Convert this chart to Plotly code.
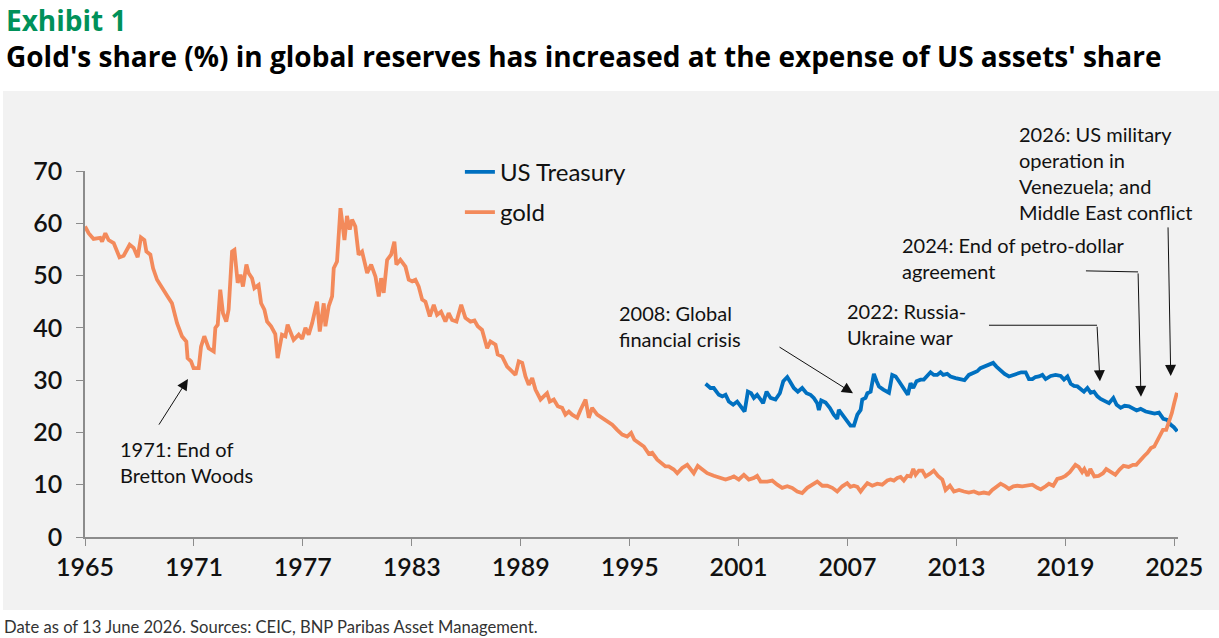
import plotly.graph_objects as go

# values (decimal year, % share)
gold_years = [
    1965.00, 1965.20, 1965.47, 1965.84, 1965.94, 1966.12, 1966.30, 1966.58, 1966.90, 1967.13,
    1967.46, 1967.68, 1967.90, 1968.08, 1968.27, 1968.38, 1968.60, 1968.75, 1968.97, 1969.24,
    1969.55, 1969.79, 1970.07, 1970.34, 1970.58, 1970.65, 1970.84, 1970.98, 1971.26, 1971.39,
    1971.57, 1971.81, 1972.09, 1972.18, 1972.31, 1972.45, 1972.60, 1972.78, 1972.91, 1973.10,
    1973.23, 1973.41, 1973.56, 1973.70, 1973.89, 1974.01, 1974.20, 1974.33, 1974.56, 1974.70,
    1974.88, 1975.03, 1975.25, 1975.48, 1975.61, 1975.85, 1976.04, 1976.16, 1976.49, 1976.77,
    1976.96, 1977.14, 1977.32, 1977.51, 1977.78, 1977.93, 1978.15, 1978.24, 1978.42, 1978.61,
    1978.70, 1978.88, 1979.07, 1979.29, 1979.43, 1979.58, 1979.71, 1979.89, 1980.07, 1980.26,
    1980.35, 1980.54, 1980.76, 1981.00, 1981.18, 1981.31, 1981.45, 1981.64, 1981.86, 1982.04,
    1982.15, 1982.37, 1982.65, 1982.83, 1983.02, 1983.20, 1983.38, 1983.57, 1983.75, 1983.99,
    1984.21, 1984.39, 1984.61, 1984.85, 1985.03, 1985.22, 1985.46, 1985.72, 1985.95, 1986.23,
    1986.45, 1986.63, 1986.87, 1987.15, 1987.33, 1987.61, 1987.73, 1987.98, 1988.25, 1988.53,
    1988.71, 1988.89, 1989.08, 1989.26, 1989.44, 1989.63, 1989.81, 1990.09, 1990.27, 1990.45,
    1990.60, 1990.82, 1991.04, 1991.28, 1991.46, 1991.65, 1991.83, 1992.11, 1992.29, 1992.57,
    1992.75, 1992.93, 1993.21, 1993.48, 1993.76, 1994.04, 1994.31, 1994.59, 1994.86, 1995.08,
    1995.26, 1995.50, 1995.78, 1996.05, 1996.24, 1996.52, 1996.79, 1996.97, 1997.15, 1997.43,
    1997.62, 1997.89, 1998.17, 1998.35, 1998.53, 1998.75, 1998.99, 1999.27, 1999.63, 2000.00,
    2000.28, 2000.55, 2000.74, 2001.01, 2001.29, 2001.56, 2001.84, 2002.02, 2002.21, 2002.58,
    2002.85, 2003.13, 2003.40, 2003.68, 2003.95, 2004.23, 2004.50, 2004.78, 2005.06, 2005.33,
    2005.61, 2005.88, 2006.16, 2006.43, 2006.71, 2006.98, 2007.16, 2007.35, 2007.54, 2007.72,
    2007.87, 2008.09, 2008.36, 2008.64, 2008.91, 2009.19, 2009.37, 2009.55, 2009.74, 2009.92,
    2010.10, 2010.29, 2010.47, 2010.62, 2010.75, 2010.93, 2011.12, 2011.30, 2011.54, 2011.75,
    2011.98, 2012.22, 2012.40, 2012.64, 2012.86, 2013.14, 2013.41, 2013.68, 2013.96, 2014.23,
    2014.51, 2014.78, 2014.97, 2015.20, 2015.43, 2015.65, 2015.89, 2016.13, 2016.35, 2016.62,
    2016.90, 2017.18, 2017.45, 2017.64, 2017.91, 2018.09, 2018.33, 2018.55, 2018.77, 2019.00,
    2019.24, 2019.42, 2019.55, 2019.73, 2019.92, 2020.04, 2020.22, 2020.37, 2020.59, 2020.83,
    2021.07, 2021.25, 2021.47, 2021.75, 2021.98, 2022.20, 2022.48, 2022.72, 2022.90, 2023.12,
    2023.34, 2023.52, 2023.71, 2023.89, 2024.07, 2024.22, 2024.37, 2024.55, 2024.68, 2024.86,
    2024.99, 2025.14,
]
gold_share = [
    59.4, 58.1, 57.0, 57.2, 56.5, 58.1, 56.8, 56.2, 53.5, 53.8,
    55.9, 55.3, 53.5, 57.3, 56.8, 54.6, 54.0, 51.4, 49.2, 47.6,
    46.0, 44.7, 40.9, 38.4, 37.4, 34.2, 33.6, 32.3, 32.3, 36.4,
    38.4, 36.1, 35.5, 40.0, 40.6, 47.3, 42.8, 41.2, 43.5, 54.6,
    54.9, 48.6, 50.2, 47.9, 52.1, 50.5, 49.5, 47.6, 48.2, 44.7,
    43.5, 41.2, 40.3, 38.8, 34.2, 38.7, 38.4, 40.6, 37.7, 38.7,
    37.9, 40.0, 38.7, 40.9, 45.0, 39.3, 44.7, 40.3, 44.1, 46.0,
    51.4, 52.7, 62.9, 56.8, 61.4, 58.8, 60.7, 59.4, 54.0, 54.6,
    53.0, 50.5, 52.1, 49.8, 46.0, 49.5, 46.7, 53.0, 54.0, 56.5,
    52.1, 53.0, 51.7, 49.2, 48.9, 49.2, 47.9, 45.4, 45.0, 42.2,
    44.4, 42.5, 43.1, 41.2, 42.8, 41.5, 41.2, 44.4, 41.9, 41.2,
    41.4, 40.3, 39.6, 36.1, 37.4, 36.8, 34.9, 34.5, 32.6, 31.7,
    31.0, 33.6, 33.3, 30.7, 29.1, 30.4, 28.2, 26.3, 26.9, 27.5,
    25.9, 26.3, 25.0, 24.7, 23.4, 24.0, 23.4, 22.8, 24.3, 26.3,
    22.8, 24.7, 23.4, 22.8, 22.1, 21.5, 20.5, 19.6, 19.2, 19.9,
    18.6, 18.0, 17.3, 15.9, 16.1, 14.8, 14.1, 13.5, 13.5, 12.9,
    12.2, 13.2, 13.8, 12.9, 12.2, 13.6, 12.9, 12.2, 11.7, 11.3,
    11.0, 11.3, 11.6, 11.0, 11.9, 11.0, 11.3, 11.7, 10.6, 10.6,
    10.8, 10.0, 9.4, 9.7, 9.4, 8.7, 8.4, 9.4, 10.0, 10.6,
    9.8, 9.8, 9.4, 8.7, 9.7, 10.3, 9.6, 9.8, 9.6, 8.7,
    9.4, 10.3, 9.8, 10.2, 10.0, 10.8, 11.0, 10.8, 11.3, 11.5,
    10.8, 11.7, 11.6, 13.0, 11.9, 12.7, 12.7, 11.6, 12.1, 12.7,
    11.7, 11.0, 9.0, 9.8, 8.7, 9.0, 8.7, 8.5, 8.7, 8.3,
    8.5, 8.3, 9.0, 9.7, 10.2, 9.8, 9.2, 9.7, 9.8, 9.7,
    9.8, 10.0, 9.4, 9.1, 9.7, 10.2, 9.8, 11.1, 11.3, 11.7,
    12.4, 13.2, 13.8, 13.4, 12.4, 13.0, 11.7, 13.0, 11.6, 11.7,
    12.2, 13.0, 12.5, 11.9, 12.9, 13.6, 13.4, 13.8, 13.8, 14.8,
    15.5, 16.1, 17.0, 17.3, 18.5, 19.6, 20.5, 20.5, 21.8, 23.7,
    25.6, 27.6,
]

ust_years = [
    1999.18, 1999.45, 1999.63, 1999.91, 2000.10, 2000.28, 2000.46, 2000.70, 2000.92, 2001.10,
    2001.33, 2001.51, 2001.69, 2001.84, 2002.02, 2002.21, 2002.35, 2002.54, 2002.76, 2003.03,
    2003.27, 2003.46, 2003.68, 2003.82, 2004.04, 2004.26, 2004.50, 2004.74, 2004.96, 2005.14,
    2005.33, 2005.42, 2005.55, 2005.79, 2006.02, 2006.24, 2006.43, 2006.52, 2006.76, 2006.98,
    2007.16, 2007.35, 2007.54, 2007.72, 2007.81, 2007.99, 2008.09, 2008.27, 2008.45, 2008.60,
    2008.73, 2008.97, 2009.28, 2009.46, 2009.65, 2009.83, 2010.01, 2010.20, 2010.32, 2010.47,
    2010.62, 2010.80, 2011.02, 2011.20, 2011.42, 2011.57, 2011.75, 2011.94, 2012.12, 2012.27,
    2012.49, 2012.67, 2012.95, 2013.22, 2013.44, 2013.68, 2013.92, 2014.14, 2014.32, 2014.54,
    2014.78, 2015.02, 2015.20, 2015.43, 2015.65, 2015.89, 2016.13, 2016.35, 2016.57, 2016.81,
    2016.99, 2017.18, 2017.35, 2017.54, 2017.73, 2017.91, 2018.19, 2018.46, 2018.74, 2018.92,
    2019.11, 2019.29, 2019.47, 2019.66, 2019.84, 2020.02, 2020.21, 2020.39, 2020.57, 2020.76,
    2020.94, 2021.12, 2021.40, 2021.64, 2021.82, 2022.04, 2022.26, 2022.50, 2022.74, 2022.92,
    2023.14, 2023.42, 2023.69, 2023.91, 2024.15, 2024.39, 2024.61, 2024.79, 2024.97, 2025.16,
]
ust_share = [
    29.3, 28.5, 28.5, 27.2, 26.9, 27.2, 25.9, 25.3, 25.9, 25.0,
    24.0, 27.8, 27.5, 26.6, 27.2, 26.3, 25.6, 27.8, 26.6, 26.3,
    27.5, 29.8, 30.6, 29.8, 28.5, 27.8, 28.5, 27.5, 27.2, 26.6,
    25.6, 24.3, 26.1, 25.7, 24.7, 23.4, 22.6, 24.3, 23.1, 22.1,
    21.3, 21.3, 23.4, 24.3, 26.3, 26.6, 27.5, 27.8, 31.2, 29.8,
    28.8, 28.2, 27.6, 31.0, 30.7, 29.8, 28.8, 27.8, 27.2, 29.4,
    28.5, 29.8, 30.1, 30.1, 31.0, 31.5, 31.0, 31.0, 31.5, 31.0,
    31.2, 30.7, 30.4, 30.1, 30.0, 31.0, 31.4, 31.7, 32.3, 32.6,
    32.9, 33.3, 32.6, 31.8, 31.2, 30.7, 31.0, 31.2, 31.5, 31.5,
    30.2, 30.2, 30.6, 30.7, 31.0, 30.2, 30.8, 31.0, 30.8, 30.1,
    30.7, 29.3, 28.9, 28.8, 28.2, 27.8, 28.5, 27.6, 27.8, 26.9,
    26.4, 26.1, 25.6, 26.6, 25.3, 24.7, 25.1, 25.0, 24.5, 24.2,
    24.5, 24.0, 23.8, 23.6, 23.8, 22.6, 22.4, 21.5, 21.0, 20.2,
]

tick_years = [1965, 1971, 1977, 1983, 1989, 1995, 2001, 2007, 2013, 2019, 2025]
tick_values = [0, 10, 20, 30, 40, 50, 60, 70]

BLUE = '#0070C0'
ORANGE = '#F38A5B'
PANEL = '#F2F2F2'
FONT = 'Lato'
TITLE_FONT = 'Open Sans'

fig = go.Figure()
fig.add_trace(go.Scatter(x=ust_years, y=ust_share, name='US Treasury', mode='lines',
                         line={'color': BLUE, 'width': 3.8}, legendgroup='a'))
fig.add_trace(go.Scatter(x=gold_years, y=gold_share, name='gold', mode='lines',
                         line={'color': ORANGE, 'width': 3.8}, legendgroup='b'))

# grey panel behind the plot
fig.add_shape(type='rect', xref='paper', yref='paper', x0=-0.075, x1=1.04, y0=-0.1995, y1=1.2186,
              fillcolor=PANEL, line_width=0, layer='below')

note_font = {'family': FONT, 'size': 20, 'color': '#111111'}


def note(x, y, text):
    fig.add_annotation(x=x, y=y, text=text, showarrow=False, xanchor='left', yanchor='middle',
                       align='left', font=note_font)


def arrow(x0, y0, x1, y1):
    fig.add_annotation(x=x1, y=y1, ax=x0, ay=y0, axref='x', ayref='y', text='', showarrow=True,
                       arrowhead=2, arrowsize=2.2, arrowwidth=1, arrowcolor='#111111')


def segment(x0, y0, x1, y1):
    fig.add_shape(type='line', x0=x0, y0=y0, x1=x1, y1=y1, line={'color': '#111111', 'width': 1})


note(1966.82, 14.3, '1971: End of<br>Bretton Woods')
arrow(1969.02, 21.2, 1970.67, 30.2)

note(1994.30, 40.3, '2008: Global<br>financial crisis')
arrow(2003.17, 36.5, 2007.30, 27.5)

note(2006.86, 40.7, '2022: Russia-<br>Ukraine war')
segment(2014.79, 40.5, 2020.74, 40.5)
arrow(2020.74, 40.5, 2020.90, 29.8)

note(2009.89, 53.4, '2024: End of petro-dollar<br>agreement')
segment(2020.13, 50.9, 2023.00, 50.7)
arrow(2023.00, 50.7, 2023.16, 26.8)

note(2016.33, 69.6, '2026: US military<br>operation in<br>Venezuela; and<br>Middle East conflict')
arrow(2024.65, 59.5, 2024.80, 30.8)

# titles and source line
fig.add_annotation(xref='paper', yref='paper', x=-0.0738, y=1.413, text='<b>Exhibit 1</b>',
                   showarrow=False, xanchor='left', yanchor='middle',
                   font={'family': TITLE_FONT, 'size': 28, 'color': '#00915A'})
fig.add_annotation(xref='paper', yref='paper', x=-0.0738, y=1.315,
                   text="<b>Gold's share (%) in global reserves has increased at the expense of US assets' share</b>",
                   showarrow=False, xanchor='left', yanchor='middle',
                   font={'family': TITLE_FONT, 'size': 28, 'color': '#000000'})
fig.add_annotation(xref='paper', yref='paper', x=-0.076, y=-0.246,
                   text='Date as of 13 June 2026. Sources: CEIC, BNP Paribas Asset Management.',
                   showarrow=False, xanchor='left', yanchor='middle',
                   font={'family': FONT, 'size': 16.6, 'color': '#333333'})

axis_style = dict(showline=True, linecolor='#8C8C8C', linewidth=1.5, ticks='outside', ticklen=7,
                  tickcolor='#8C8C8C', showgrid=False, zeroline=False,
                  tickfont={'family': FONT, 'size': 25, 'color': '#111111', 'weight': 600})

fig.update_xaxes(range=[1965, 2025.2], tickmode='array', tickvals=tick_years,
                 ticktext=[str(t) for t in tick_years], **axis_style)
fig.update_yaxes(range=[0, 70], tickmode='array', tickvals=tick_values, ticklabelstandoff=9,
                 **axis_style)

fig.update_layout(
    width=1219, height=638,
    margin={'l': 85, 'r': 41, 't': 171, 'b': 101, 'autoexpand': False},
    paper_bgcolor='white', plot_bgcolor=PANEL,
    showlegend=True,
    legend={'x': 0.343, 'y': 1.058, 'xanchor': 'left', 'yanchor': 'top', 'bgcolor': 'rgba(0,0,0,0)',
            'font': {'family': FONT, 'size': 24, 'color': '#111111'}, 'tracegroupgap': 6},
)

# page body has a default margin; drop it so the figure sits at the window's corner
fig.write_html('out.html', config={'displayModeBar': False},
               post_script="document.body.style.margin='0';")
